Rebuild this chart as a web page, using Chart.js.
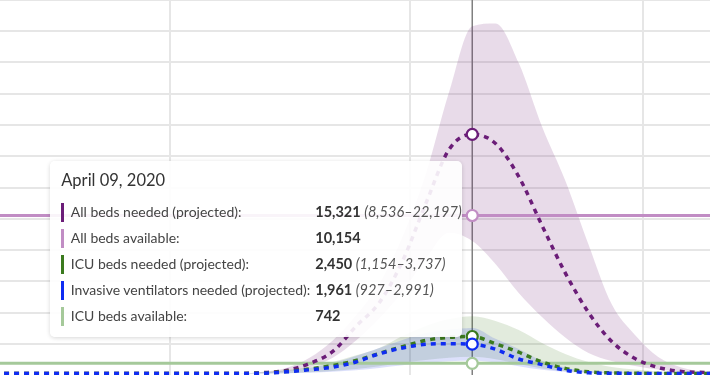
<!DOCTYPE html>
<html><head><meta charset="utf-8">
<script src="https://cdn.jsdelivr.net/npm/chart.js@4"></script>
<style>
html,body{margin:0;padding:0;background:#fff;}
#wrap{position:relative;width:710px;height:375px;overflow:hidden;}
canvas{display:block;}
#tip{position:absolute;top:161px;width:412px;height:176px;background:rgba(255,255,255,0.9);border-radius:5px;box-shadow:0 1px 4px rgba(0,0,0,0.16);font-family:Lato,"Open Sans",sans-serif;color:#333;}
#tip .title{position:absolute;left:11px;top:8px;font-size:16.5px;line-height:22px;color:#333;}
#tip .row{position:absolute;left:11px;right:0;height:26px;line-height:26px;font-size:14px;}
#tip .bar{position:absolute;left:0;top:3.5px;width:3px;height:19px;}
#tip .lab{position:absolute;left:9.5px;color:#444;white-space:nowrap;}
#tip .val{position:absolute;left:254px;white-space:nowrap;color:#333;font-weight:700;font-size:14.5px;}
#tip .rng{font-weight:400;font-style:italic;color:#555;}
</style></head><body>
<div id="wrap"><canvas id="c" width="710" height="375"></canvas><div id="tip"></div></div>
<script>
// ---- data (beds, per date) ----
const dates = ['2020-02-06','2020-02-09','2020-02-12','2020-02-15','2020-02-18','2020-02-21','2020-02-24','2020-02-27',
 '2020-03-01','2020-03-04','2020-03-07','2020-03-10','2020-03-13','2020-03-16','2020-03-19','2020-03-22','2020-03-25','2020-03-28','2020-03-31',
 '2020-04-03','2020-04-06','2020-04-09','2020-04-12','2020-04-15','2020-04-18','2020-04-21','2020-04-24','2020-04-27','2020-04-30',
 '2020-05-03','2020-05-06','2020-05-09','2020-05-12'];
const allBedsNeeded = [100,100,100,100,100,100,100,100,100,100,100,100,150,290,730,1500,3100,4600,7250,10900,14350,15321,14740,12630,9520,6500,3980,2130,1050,480,220,160,120];
const allBedsUpper  = [100,100,100,100,100,100,100,100,100,100,100,100,200,450,1100,2200,3800,5800,8800,12800,18000,22197,22370,19860,15810,12380,8300,4500,2550,1150,480,220,150];
const allBedsLower  = [100,100,100,100,100,100,100,100,100,100,100,100,120,220,500,1100,2200,3600,5300,7400,9050,8536,7070,5220,3690,2390,1400,890,570,350,220,160,120];
const allBedsAvailable = 10154;
const icuNeeded = [100,100,100,100,100,100,100,100,100,100,100,100,120,230,380,600,920,1370,1810,2200,2400,2450,1990,1450,830,420,200,130,110,100,100,100,100];
const icuUpper  = [100,100,100,100,100,100,100,100,100,100,100,100,190,320,510,830,1250,1720,2480,3120,3560,3737,3440,2860,2040,1340,830,510,350,220,160,130,120];
const icuLower  = [100,100,100,100,100,100,100,100,100,100,100,100,100,110,170,250,380,560,780,960,1100,1154,1000,700,420,240,160,120,100,100,100,100,100];
const icuAvailable = 742;
const ventNeeded = [100,100,100,100,100,100,100,100,100,100,100,100,110,200,330,500,830,1350,1720,1950,1990,1961,1640,1020,660,300,140,110,100,100,100,100,100];
const ventUpper  = [100,100,100,100,100,100,100,100,100,100,100,100,160,250,450,760,1210,1720,2230,2670,2900,2991,2300,1650,900,480,250,160,130,110,100,100,100];
const ventLower  = [100,100,100,100,100,100,100,100,100,100,100,100,100,110,140,200,300,450,620,780,880,927,800,560,330,200,130,100,100,100,100,100,100];
const monthStarts = ['2020-03-01','2020-04-01','2020-05-01'];
const hoverDate = '2020-04-09';

// ---- helpers ----
const DAY0 = Date.UTC(2020,2,1);
const dayOf = s => (Date.parse(s + 'T00:00:00Z') - DAY0) / 86400000;
const xs = dates.map(dayOf);
const pts = arr => arr.map((v,i) => ({x: xs[i], y: v}));
const flat = v => xs.map(x => ({x, y: v}));
const hoverIdx = dates.indexOf(hoverDate);
const fmt = n => n.toLocaleString('en-US');

const C = {purple:'#6b1d78', purpleLight:'#c18dc4', green:'#3b7a1e', greenLight:'#a5c99a', blue:'#0f2cf2'};

const pr = ctx => ctx.dataIndex === hoverIdx ? 5.5 : 0;
function band(data, color, order, fill){
  return {data: pts(data), fill: fill, backgroundColor: color, borderColor:'transparent', borderWidth:0, pointRadius:0, order, cubicInterpolationMode:'monotone'};
}
function line(data, color, order, dashed, width){
  return {data, borderColor: color, borderWidth: width, borderDash: dashed ? [5,5] : [], fill:false,
    pointRadius: pr, pointHoverRadius: pr, pointBackgroundColor:'#fff', pointBorderColor: color, pointBorderWidth: 2.2,
    order, cubicInterpolationMode:'monotone'};
}

const hoverLine = {
  id:'hoverLine',
  beforeDatasetsDraw(chart){
    const x = chart.scales.x.getPixelForValue(dayOf(hoverDate));
    const {top, bottom} = chart.chartArea, ctx = chart.ctx;
    ctx.save(); ctx.strokeStyle = '#808080'; ctx.lineWidth = 1.5;
    ctx.beginPath(); ctx.moveTo(x, top); ctx.lineTo(x, bottom); ctx.stroke(); ctx.restore();
  }
};

const chart = new Chart(document.getElementById('c'), {
  type:'line',
  data:{datasets:[
    band(allBedsUpper, 'rgba(111,29,120,0.16)', 10, '+1'),
    band(allBedsLower, 'transparent', 10, false),
    band(icuUpper, 'rgba(59,122,30,0.15)', 9, '+1'),
    band(icuLower, 'transparent', 9, false),
    band(ventUpper, 'rgba(20,50,230,0.15)', 8, '+1'),
    band(ventLower, 'transparent', 8, false),
    line(flat(allBedsAvailable), C.purpleLight, 7, false, 3),
    line(flat(icuAvailable), C.greenLight, 6, false, 3),
    line(pts(allBedsNeeded), C.purple, 3, true, 3.5),
    line(pts(icuNeeded), C.green, 2, true, 3.5),
    line(pts(ventNeeded), C.blue, 1, true, 3.5)
  ]},
  options:{
    responsive:false, animation:false, devicePixelRatio:1, events:[],
    layout:{padding:0, autoPadding:false},
    plugins:{legend:{display:false}, tooltip:{enabled:false}},
    scales:{
      x:{type:'linear', min:-21.94, max:69.68,
         ticks:{display:false}, border:{display:false},
         grid:{drawTicks:false, color:'#e6e6e6', lineWidth:2},
         afterBuildTicks: s => { s.ticks = monthStarts.map(d => ({value: dayOf(d)})); }},
      y:{type:'linear', min:0, max:23870,
         ticks:{display:false, stepSize:2000, includeBounds:false}, border:{display:false},
         grid:{drawTicks:false, color:'#e6e6e6', lineWidth:2},
         afterBuildTicks: s => { s.ticks = s.ticks.filter(t => t.value > 0); }}
    }
  },
  plugins:[hoverLine]
});

// ---- tooltip (HTML text) ----
const months = ['January','February','March','April','May','June','July','August','September','October','November','December'];
const hd = new Date(hoverDate + 'T00:00:00Z');
const title = months[hd.getUTCMonth()] + ' ' + String(hd.getUTCDate()).padStart(2,'0') + ', ' + hd.getUTCFullYear();
const rows = [
  {label:'All beds needed (projected):', color:C.purple, v:allBedsNeeded[hoverIdx], lo:allBedsLower[hoverIdx], hi:allBedsUpper[hoverIdx]},
  {label:'All beds available:', color:C.purpleLight, v:allBedsAvailable},
  {label:'ICU beds needed (projected):', color:C.green, v:icuNeeded[hoverIdx], lo:icuLower[hoverIdx], hi:icuUpper[hoverIdx]},
  {label:'Invasive ventilators needed (projected):', color:C.blue, v:ventNeeded[hoverIdx], lo:ventLower[hoverIdx], hi:ventUpper[hoverIdx]},
  {label:'ICU beds available:', color:C.greenLight, v:icuAvailable}
];
const tip = document.getElementById('tip');
let html = '<div class="title">' + title + '</div>';
rows.forEach((r,i) => {
  html += '<div class="row" style="top:' + (38 + 26*i) + 'px"><span class="bar" style="background:' + r.color + '"></span>' +
    '<span class="lab">' + r.label + '</span><span class="val">' + fmt(r.v) +
    (r.lo !== undefined ? ' <span class="rng">(' + fmt(r.lo) + '\u2013' + fmt(r.hi) + ')</span>' : '') + '</span></div>';
});
tip.innerHTML = html;
const hx = chart.scales.x.getPixelForValue(dayOf(hoverDate));
tip.style.left = (hx - 10 - 412) + 'px';
</script>
</body></html>
